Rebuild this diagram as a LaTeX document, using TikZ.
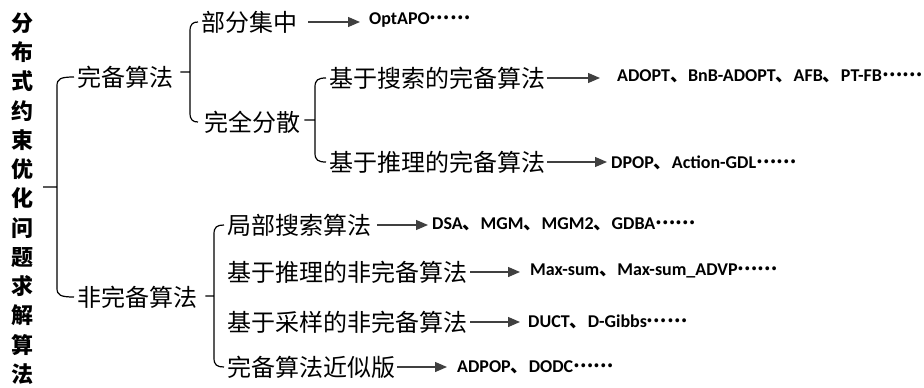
\documentclass[tikz,border=0pt]{standalone}
\usepackage{fontspec}
\usetikzlibrary{arrows.meta,calc}
\newfontfamily\cjk{Noto Sans CJK SC}
\newfontfamily\latf{Carlito}
\definecolor{arrowgray}{HTML}{404040}
\newcommand\dn{{\cjk 、}}
\newcommand\mydots{{\cjk\bfseries\raisebox{0.27em}{……}}}
\newcommand\mybrace[5]{%
\draw[brc] let \p1=(#2.west), \p2=(#3.west), \p3=(#1.east), \p4=([xshift=-#4 pt]#2.west) in
 (\x1-3pt,\y1) .. controls (\x4+3pt,\y1) and (\x4,\y1-2pt) .. (\x4,\y1-9pt)
 -- (\x4,\y2+9pt) .. controls (\x4,\y2+2pt) and (\x4+3pt,\y2) .. (\x1-3pt,\y2)
 (\x3+#5 pt,{(\y1+\y2)/2}) -- (\x4,{(\y1+\y2)/2});}
\begin{document}
\begin{tikzpicture}[x=1pt,y=-1pt,
  cn/.style={anchor=west,inner sep=0pt,font=\cjk\fontsize{24}{26}\selectfont},
  lbl/.style={anchor=west,inner sep=0pt,font=\latf\bfseries\fontsize{18}{20}\selectfont},
  brc/.style={draw=black,line width=1.2pt},
  arr/.style={draw=arrowgray,line width=1.3pt,-{Triangle[length=12pt,width=10pt]}}]
\useasboundingbox (0,0) rectangle (924,388);
\node[inner sep=0pt,align=center,font=\cjk\bfseries\fontsize{22}{29.25}\selectfont] (title) at (22,198.5)
 {分\\布\\式\\约\\束\\优\\化\\问\\题\\求\\解\\算\\法};
\node[cn] (wb) at (77,77) {完备算法};
\node[cn] (fwb) at (77,297) {非完备算法};
\node[cn] (bf) at (201,22) {部分集中};
\node[cn] (wq) at (204,122) {完全分散};
\node[cn] (ss) at (329,78) {基于搜索的完备算法};
\node[cn] (tl) at (329,162) {基于推理的完备算法};
\node[cn] (jb) at (227,225) {局部搜索算法};
\node[cn] (tlf) at (227,272) {基于推理的非完备算法};
\node[cn] (cy) at (227,322) {基于采样的非完备算法};
\node[cn] (js) at (227,367) {完备算法近似版};
\node[lbl] (l1) at (369,20) {OptAPO\mydots};
\node[lbl] (l2) at (617,76) {ADOPT\dn BnB-ADOPT\dn AFB\dn PT-FB\mydots};
\node[lbl] (l3) at (611,163) {DPOP\dn Action-GDL\mydots};
\node[lbl] (l4) at (432,224) {DSA\dn MGM\dn MGM2\dn GDBA\mydots};
\node[lbl] (l5) at (530,271) {Max-sum\dn Max-sum\_ADVP\mydots};
\node[lbl] (l6) at (528,322) {DUCT\dn D-Gibbs\mydots};
\node[lbl] (l7) at (457,367) {ADPOP\dn DODC\mydots};
\mybrace{title}{wb}{fwb}{20}{10}
\mybrace{wb}{bf}{wq}{11}{7}
\mybrace{wq}{ss}{tl}{14}{4}
\mybrace{fwb}{jb}{js}{13}{8}
\draw[arr,shorten <=11pt,shorten >=9pt] (bf.east) -- (bf.east -| l1.west);
\draw[arr,shorten <=2pt,shorten >=17pt] (ss.east) -- (ss.east -| l2.west);
\draw[arr,shorten <=2pt,shorten >=4pt] (tl.east) -- (tl.east -| l3.west);
\draw[arr,shorten <=6pt,shorten >=4pt] (jb.east) -- (jb.east -| l4.west);
\draw[arr,shorten <=3pt,shorten >=10pt] (tlf.east) -- (tlf.east -| l5.west);
\draw[arr,shorten <=3pt,shorten >=8pt] (cy.east) -- (cy.east -| l6.west);
\draw[arr,shorten <=2pt,shorten >=10pt] (js.east) -- (js.east -| l7.west);
\end{tikzpicture}
\end{document}
